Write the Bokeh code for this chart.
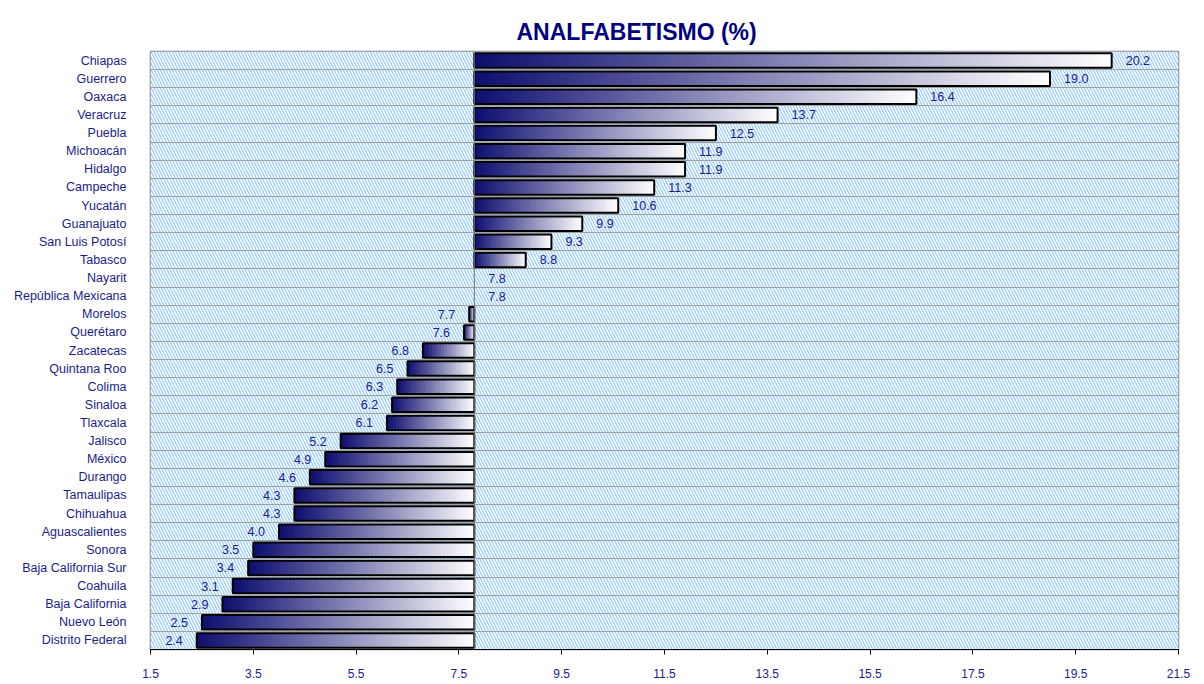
import numpy as np
from bokeh.plotting import figure
from bokeh.models import (BoxAnnotation, Span, FixedTicker, ColumnDataSource, Range1d)
from bokeh.embed import file_html
from bokeh.resources import INLINE

# ---- data ----
states = ["Chiapas", "Guerrero", "Oaxaca", "Veracruz", "Puebla", "Michoacán", "Hidalgo",
          "Campeche", "Yucatán", "Guanajuato", "San Luis Potosí", "Tabasco", "Nayarit",
          "República Mexicana", "Morelos", "Querétaro", "Zacatecas", "Quintana Roo", "Colima",
          "Sinaloa", "Tlaxcala", "Jalisco", "México", "Durango", "Tamaulipas", "Chihuahua",
          "Aguascalientes", "Sonora", "Baja California Sur", "Coahuila", "Baja California",
          "Nuevo León", "Distrito Federal"]
values = [20.2, 19.0, 16.4, 13.7, 12.5, 11.9, 11.9, 11.3, 10.6, 9.9, 9.3, 8.8, 7.8,
          7.8, 7.7, 7.6, 6.8, 6.5, 6.3, 6.2, 6.1, 5.2, 4.9, 4.6, 4.3, 4.3,
          4.0, 3.5, 3.4, 3.1, 2.9, 2.5, 2.4]
baseline = 7.8  # República Mexicana
x_ticks = [1.5, 3.5, 5.5, 7.5, 9.5, 11.5, 13.5, 15.5, 17.5, 19.5, 21.5]
title_text = "ANALFABETISMO (%)"

TEXT = "#1c1c8a"
NAVY = (14, 14, 112)
FONT = "Liberation Sans"

W, H = 1204, 684
FL, FR, FT, FB = 150, 1178, 51, 649  # frame edges (px)

n = len(states)
ypos = (np.arange(n)[::-1] + 0.5).tolist()  # top row first

p = figure(width=W, height=H, output_backend="svg", toolbar_location=None,
           x_range=Range1d(x_ticks[0], x_ticks[-1]), y_range=Range1d(0, n),
           min_border_left=FL, min_border_right=W - FR, min_border_top=FT,
           min_border_bottom=H - FB)

# hatched background
bg = BoxAnnotation(fill_color="white", fill_alpha=1.0, line_color=None,
                   hatch_pattern="left_diagonal_line", hatch_color="#99ccff",
                   hatch_scale=6, hatch_weight=1.3, level="image")
p.add_layout(bg)

# gradient bars built as layered slices (each slice runs to the bar end -> no seams)
px_per_unit = (FR - FL) / (x_ticks[-1] - x_ticks[0])
ls, rs, bs, ts, cs = [], [], [], [], []
h = 0.8
for v, y in zip(values, ypos):
    lo, hi = min(v, baseline), max(v, baseline)
    if hi - lo <= 0:
        continue
    K = max(6, int((hi - lo) * px_per_unit / 3))
    edges = np.linspace(lo, hi, K + 1)
    for k in range(K):
        t = (k + 0.5) / K
        r = int(NAVY[0] + (255 - NAVY[0]) * t)
        g = int(NAVY[1] + (255 - NAVY[1]) * t)
        b = int(NAVY[2] + (255 - NAVY[2]) * t)
        ls.append(edges[k]); rs.append(hi)
        bs.append(y - h / 2); ts.append(y + h / 2)
        cs.append("#%02x%02x%02x" % (r, g, b))
p.quad(left=ls, right=rs, bottom=bs, top=ts, fill_color=cs, line_color=None)

# bar outlines
lefts = [min(v, baseline) for v in values]
rights = [max(v, baseline) for v in values]
oalpha = [1.0 if abs(v - baseline) > 1e-9 else 0.0 for v in values]
p.quad(left=lefts, right=rights, bottom=[y - h / 2 for y in ypos], top=[y + h / 2 for y in ypos],
       fill_color=None, line_color="black", line_width=2, line_alpha=oalpha)

# baseline axis line
p.add_layout(Span(location=baseline, dimension="height", line_color="#707070", line_width=1))

# value labels
aligns = ["right" if v < baseline else "left" for v in values]
offs = [-14 if v < baseline else 14 for v in values]
src = ColumnDataSource(dict(x=values, y=ypos, t=["%.1f" % v for v in values], a=aligns, o=offs))
p.text(x="x", y="y", text="t", text_align="a", x_offset="o", source=src,
       text_baseline="middle", text_color=TEXT, text_font_size="12.5px",
       text_font={"value": FONT})

# axes
p.xaxis.ticker = FixedTicker(ticks=x_ticks)
p.xaxis.major_label_text_color = TEXT
p.xaxis.major_label_text_font = FONT
p.xaxis.major_label_text_font_size = "12px"
p.xaxis.axis_line_color = "black"
p.xaxis.major_tick_out = 5
p.xaxis.major_tick_in = 0
p.xaxis.major_tick_line_color = "black"
p.xaxis.minor_tick_line_color = None
p.xaxis.major_label_standoff = 14

p.yaxis.ticker = FixedTicker(ticks=ypos)
p.yaxis.major_label_overrides = {y: s for y, s in zip(ypos, states)}
p.yaxis.major_label_text_color = TEXT
p.yaxis.major_label_text_font = FONT
p.yaxis.major_label_text_font_size = "12.5px"
p.yaxis.axis_line_color = None
p.yaxis.major_tick_line_color = None
p.yaxis.minor_tick_line_color = None
p.yaxis.major_label_standoff = 18

# grid
p.xgrid.grid_line_color = None
p.ygrid.ticker = FixedTicker(ticks=list(range(1, n)))
p.ygrid.grid_line_color = "#a0a0a0"
p.ygrid.grid_line_width = 1

p.outline_line_color = "#808080"
p.outline_line_width = 1.5

p.title.text = title_text
p.title.align = "left"
p.title.offset = 366
p.title.standoff = 10
p.title.vertical_align = "top"
p.title.text_font = FONT
p.title.text_font_size = "23px"
p.title.text_font_style = "bold"
p.title.text_color = "#000080"

open("out.html", "w").write(file_html(p, INLINE))
